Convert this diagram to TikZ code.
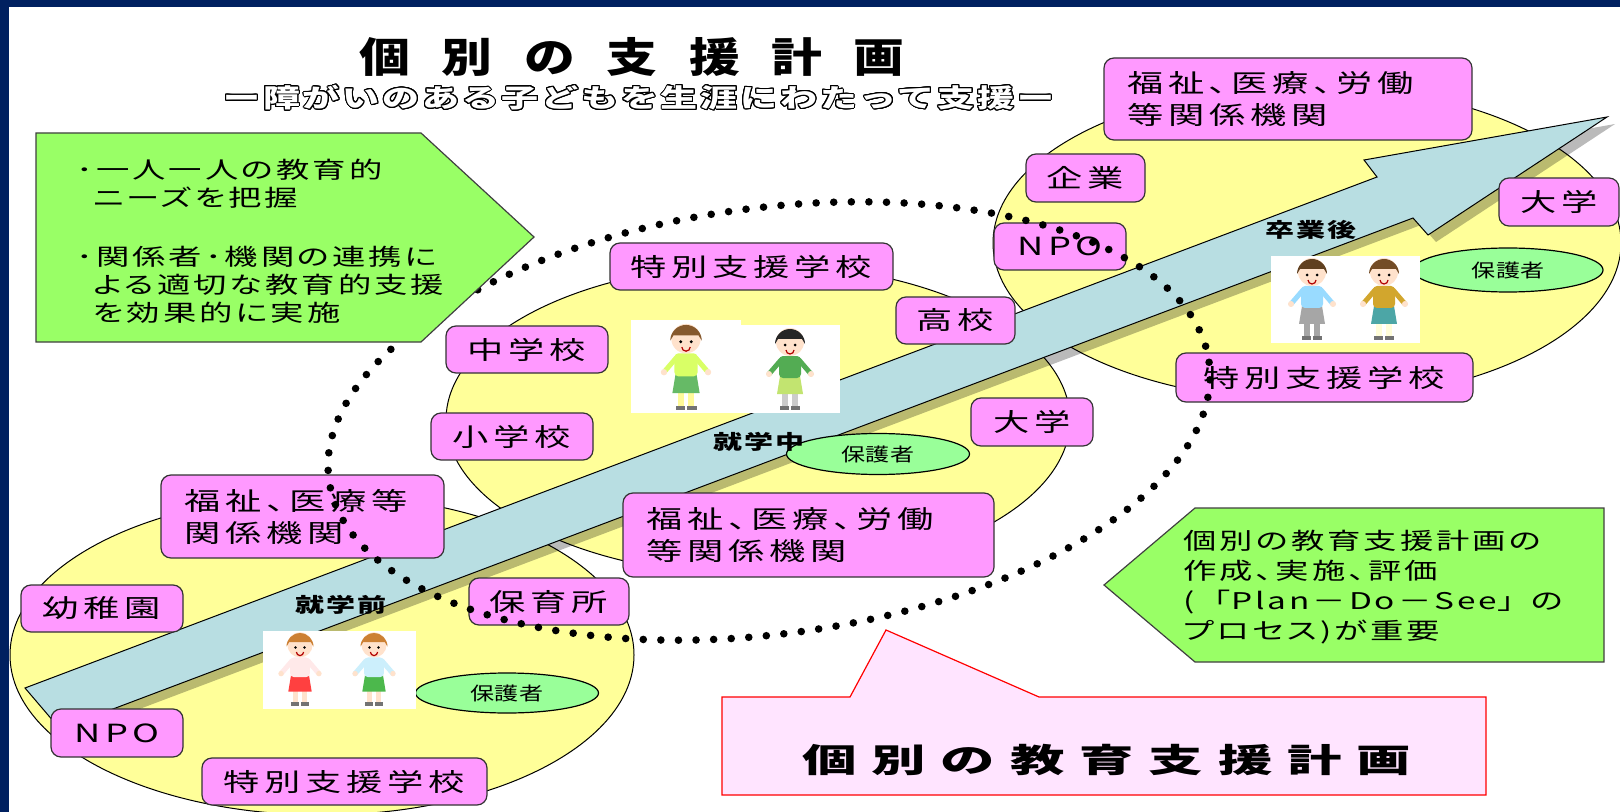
\documentclass[tikz,border=0pt]{standalone}
\usepackage{fontspec}
\usepackage{contour}
\usetikzlibrary{shapes.geometric}

% the slide is set in a wide gothic face
\newfontfamily\orgfont{Noto Sans CJK JP}[FakeStretch=1.45,LetterSpace=19,RawFeature=+palt]
\newfontfamily\notefont{Noto Sans CJK JP}[FakeStretch=1.45,LetterSpace=13,RawFeature=+palt]
\newfontfamily\bracketfont{Noto Sans CJK JP}[FakeStretch=1.45,LetterSpace=13]
\newfontfamily\titlefont{Noto Sans CJK JP}[FakeStretch=1.24,LetterSpace=77]
\newfontfamily\subtitlefont{Noto Sans CJK JP}[FakeStretch=1.45,LetterSpace=11]
\newfontfamily\planfont{Noto Sans CJK JP}[FakeStretch=1.65,LetterSpace=45]
\newfontfamily\guardfont{Noto Sans CJK JP}[FakeStretch=1.3]
\newfontfamily\stagefont{Noto Sans CJK JP}[FakeStretch=1.45,LetterSpace=10]

\definecolor{navy}{HTML}{002060}
\definecolor{boxpink}{HTML}{FF99FF}
\definecolor{notegreen}{HTML}{99FF66}
\definecolor{guardgreen}{HTML}{99FF99}
\definecolor{paleyellow}{HTML}{FFFF99}
\definecolor{arrowblue}{HTML}{B8DEE2}
\definecolor{planpink}{HTML}{FFE4FF}
\definecolor{skin}{HTML}{FFE2CC}

\contourlength{0.5pt}
\contournumber{24}

% outline of the long arrow (pixel units)
\newcommand{\bigarrow}{(25,688) -- (1377,177) -- (1364,160) -- (1607,117)
  -- (1428,235) -- (1413,218) -- (60,729) -- cycle}

% small cartoon figure standing at #1
% #2 scale, #3 hair, #4 shirt, #5 skirt/trousers, #6 legs
\newcommand{\kid}[6]{%
  \begin{scope}[shift={(#1)},scale=#2]
    \fill[#6] (-8,-20) rectangle (-2,-2);
    \fill[#6] (2,-20) rectangle (8,-2);
    \fill[black!55] (-10,-4) rectangle (-1,0);
    \fill[black!55] (1,-4) rectangle (10,0);
    \draw[#4,line width=2.5pt,line cap=round] (-9,-50) -- (-21,-36);
    \draw[#4,line width=2.5pt,line cap=round] (9,-50) -- (21,-36);
    \fill[skin] (-21,-36) circle [radius=3];
    \fill[skin] (21,-36) circle [radius=3];
    \fill[#5] (-13,-16) -- (13,-16) -- (10,-34) -- (-10,-34) -- cycle;
    \fill[#4,rounded corners=2pt] (-11,-54) rectangle (11,-32);
    \fill[skin] (0,-68) circle [radius=14];
    \fill[#3] (-15,-66) arc [start angle=180,end angle=360,radius=15]
      -- (12,-71) -- (-12,-71) -- cycle;
    \fill (-5,-65) circle [radius=1.5];
    \fill (5,-65) circle [radius=1.5];
    \draw[red!70!black,line width=0.6pt] (-4,-60) arc [start angle=180,end angle=0,radius=4];
  \end{scope}}

\begin{document}
\begin{tikzpicture}[x=0.5pt,y=-0.5pt,
  field/.style={draw=black,fill=paleyellow,line width=0.5pt},
  org/.style={draw=black!80,fill=boxpink,rounded corners=5pt,line width=0.6pt,
    inner sep=0pt,font=\orgfont\fontsize{12.5pt}{16pt}\selectfont},
  guardian/.style={ellipse,draw=black,fill=guardgreen,line width=0.6pt,inner sep=0pt,
    font=\guardfont\fontsize{9.25pt}{11pt}\selectfont},
  stage/.style={inner sep=0pt,font=\stagefont\bfseries\fontsize{10pt}{12pt}\selectfont},
  photo/.style={fill=white,inner sep=0pt},
  note/.style={draw=black!75,fill=notegreen,line width=0.6pt},
  notetext/.style={anchor=west,align=left,inner sep=0pt,
    font=\notefont\fontsize{11.5pt}{14pt}\selectfont},
  dotring/.style={line width=3.8pt,line cap=round,dash pattern=on 0pt off 8.8pt}
]
  \useasboundingbox (0,0) rectangle (1620,812);
  \fill[navy] (0,0) rectangle (1620,812);
  \fill[white] (9,7) rectangle (1620,812);

  \begin{scope}
    \clip (9,7) rectangle (1620,812);

    % before school, at school, after school
    \draw[field] (322,655) ellipse [x radius=312, y radius=160];
    \draw[field] (758,420) ellipse [x radius=312, y radius=156];
    \draw[field] (1307,243) ellipse [x radius=314, y radius=158];

    % long arrow with its shadow
    \fill[black,opacity=0.27,transform canvas={shift={(8,7)}}] \bigarrow;
    \draw[line width=0.5pt,fill=arrowblue] \bigarrow;

    % schools and other bodies
    \node[org,minimum width=184pt,minimum height=41pt,text width=161pt,align=left]
      (welfareTop) at (1288,99) {福祉、医療、労働\\等関係機関};
    \node[org,minimum width=59.5pt,minimum height=24pt] (company) at (1085.5,178) {企業};
    \node[org,minimum width=66pt,minimum height=23.5pt] (npoTop) at (1060,246.5) {NPO};
    \node[org,minimum width=60pt,minimum height=24pt] (univTop) at (1559,202) {大学};
    \node[org,minimum width=141.5pt,minimum height=23.5pt] (specialMid) at (751.5,266.5) {特別支援学校};
    \node[org,minimum width=59.5pt,minimum height=23.5pt] (highSchool) at (955.5,320.5) {高校};
    \node[org,minimum width=81pt,minimum height=23.5pt] (juniorHigh) at (527,349.5) {中学校};
    \node[org,minimum width=81pt,minimum height=23.5pt] (elementary) at (512,436.5) {小学校};
    \node[org,minimum width=61pt,minimum height=24pt] (univMid) at (1032,422) {大学};
    \node[org,minimum width=148.5pt,minimum height=24.5pt] (specialTop) at (1324.5,377.5) {特別支援学校};
    \node[org,minimum width=185.5pt,minimum height=42pt,text width=162pt,align=left]
      (welfareMid) at (808.5,535) {福祉、医療、労働\\等関係機関};
    \node[org,minimum width=141.5pt,minimum height=41.5pt,text width=118pt,align=left]
      (welfareLow) at (302.5,516.5) {福祉、医療等\\関係機関};
    \node[org,minimum width=80pt,minimum height=23.5pt] (nursery) at (549,601.5) {保育所};
    \node[org,minimum width=81pt,minimum height=23.5pt] (kindergarten) at (102,608.5) {幼稚園};
    \node[org,minimum width=66pt,minimum height=24pt] (npoLow) at (117,733) {NPO};
    \node[org,minimum width=142.5pt,minimum height=23.5pt] (specialLow) at (344.5,781.5) {特別支援学校};

    % parents
    \node[guardian,minimum width=95pt,minimum height=22pt] (guardTop) at (1508,270) {保護者};
    \node[guardian,minimum width=91.5pt,minimum height=20.5pt] (guardMid) at (878,454) {保護者};
    \node[guardian,minimum width=91.5pt,minimum height=20pt] (guardLow) at (507,693) {保護者};

    % children and young adults
    \node[photo,minimum width=76.5pt,minimum height=39pt] (photoLow) at (339.5,670) {};
    \kid{300,706}{0.9}{brown!80!orange}{pink!35}{red!75}{skin}
    \kid{374,706}{0.9}{brown!80!orange}{cyan!20}{green!60!black!70}{skin}
    \node[photo,minimum width=55pt,minimum height=46.5pt] (photoGirl) at (686,366.5) {};
    \node[photo,minimum width=49.5pt,minimum height=44pt] (photoBoy) at (790.5,369) {};
    \kid{686,410}{1.05}{brown!70!black}{green!25!yellow!60}{green!55!black!60}{yellow!40}
    \kid{790,410}{1.0}{black!85}{green!35!gray}{yellow!60!green!60}{gray!40}
    \node[photo,minimum width=74.5pt,minimum height=43.5pt] (photoAdult) at (1345.5,299.5) {};
    \kid{1312,340}{1.0}{brown!50!black}{blue!35!cyan!40}{gray!70}{gray!70}
    \kid{1384,340}{1.0}{brown!60!black}{brown!70!yellow}{teal!70}{yellow!15}

    % stages along the arrow
    \node[stage] (beforeSchool) at (341,605) {就学前};
    \node[stage] (atSchool) at (759,442) {就学中};
    \node[stage] (afterSchool) at (1311,230) {卒業後};

    % the plan that ties the stages together
    \draw[dotring,rotate around={7.6:(769,421)}] (769,421) ellipse [x radius=444, y radius=213];

    % notes
    \draw[note] (36,133) -- (421,133) -- (534,237) -- (421,342) -- (36,342) -- cycle;
    \node[notetext] (needs) at (76,241)
      {･一人一人の教育的\\\phantom{･}ニーズを把握\\[15.5pt]
       ･関係者･機関の連携に\\\phantom{･}よる適切な教育的支援\\\phantom{･}を効果的に実施};
    \draw[note] (1104,585) -- (1195,508) -- (1604,508) -- (1604,662) -- (1195,662) -- cycle;
    \node[notetext,font=\notefont\fontsize{11.5pt}{15pt}\selectfont] (pdca) at (1183,587)
      {個別の教育支援計画の\\作成、実施、評価\\{\bracketfont(「}Plan－Do－See{\bracketfont」}の\\プロセス)が重要};

    % callout
    \draw[red,fill=planpink,line width=0.6pt] (722,697) -- (850,697) -- (886,630) -- (1039,697)
      -- (1486,697) -- (1486,795) -- (722,795) -- cycle;
    \node[anchor=west,inner sep=0pt,font=\planfont\bfseries\fontsize{16.5pt}{20pt}\selectfont]
      (planName) at (802,760) {個別の教育支援計画};

    % headings
    \node[anchor=west,inner sep=0pt,font=\titlefont\bfseries\fontsize{20.5pt}{24pt}\selectfont]
      (title) at (359,57) {個別の支援計画};
    \node[anchor=west,inner sep=0pt,text=white,
      font=\subtitlefont\bfseries\fontsize{12.75pt}{16pt}\selectfont]
      (subtitle) at (223,98) {\contour{black}{ー障がいのある子どもを生涯にわたって支援ー}};
  \end{scope}
\end{tikzpicture}
\end{document}
